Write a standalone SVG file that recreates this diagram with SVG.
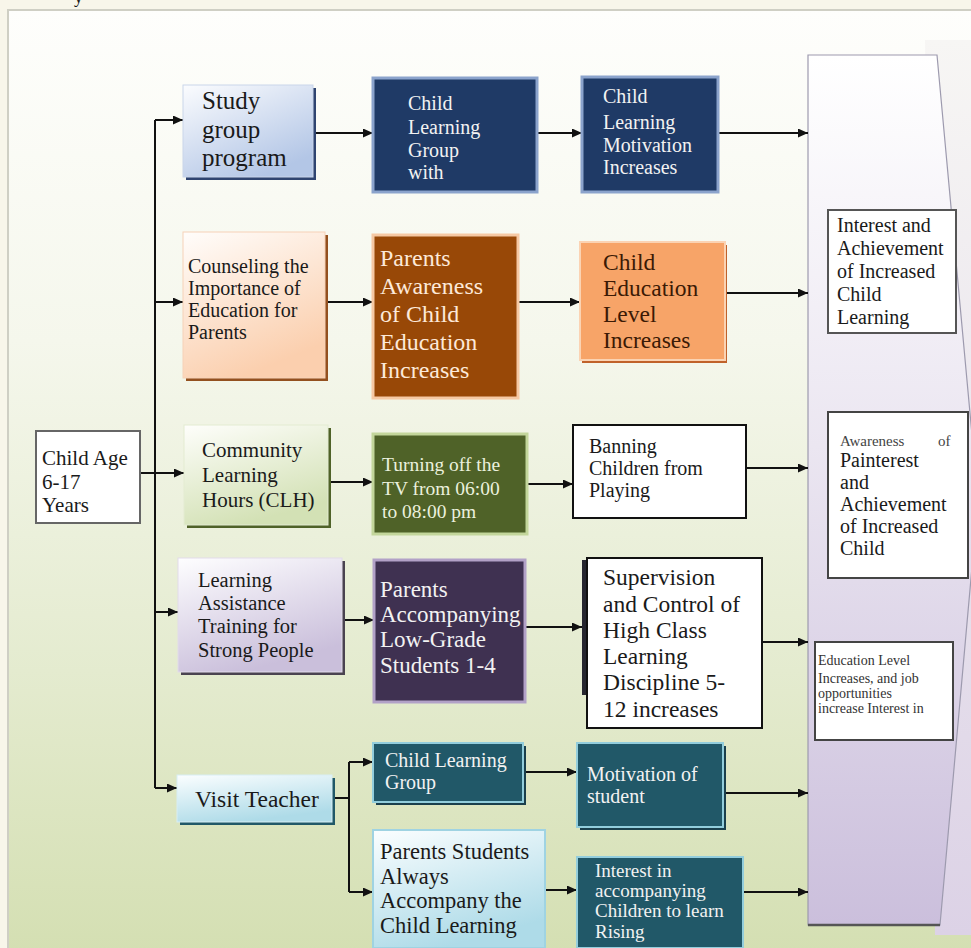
<svg xmlns="http://www.w3.org/2000/svg" width="971" height="948" viewBox="0 0 971 948">
<style>
text{font-family:"Liberation Serif","Times New Roman",serif;}
.dk{fill:#1a1a1a;}
.wt{fill:#f2f2f2;}
.cn line,.cn path{stroke:#111;stroke-width:2;fill:none;}
.arr{marker-end:url(#ah);}
</style>
<defs>
<marker id="ah" markerUnits="userSpaceOnUse" markerWidth="10" markerHeight="9" refX="10" refY="4.5" orient="auto"><path d="M0,0 L10,4.5 L0,9 z" fill="#111"/></marker>
<linearGradient id="bg" x1="0" y1="0" x2="0" y2="1"><stop offset="0" stop-color="#fefefc"/><stop offset="0.35" stop-color="#f5f7ec"/><stop offset="0.7" stop-color="#e4ebcf"/><stop offset="1" stop-color="#d4dfb2"/></linearGradient>
<linearGradient id="lav" x1="0" y1="0" x2="0" y2="1"><stop offset="0" stop-color="#ffffff"/><stop offset="0.45" stop-color="#ebe6f1"/><stop offset="1" stop-color="#cbbfdc"/></linearGradient>
<linearGradient id="lav2" x1="0" y1="0" x2="0" y2="1"><stop offset="0" stop-color="#f7f6f4"/><stop offset="1" stop-color="#dcd2e6"/></linearGradient>
<linearGradient id="gBlue" x1="0" y1="0" x2="0.6" y2="1"><stop offset="0" stop-color="#fbfcfe"/><stop offset="1" stop-color="#b3c6e6"/></linearGradient>
<linearGradient id="gPeach" x1="0" y1="0" x2="0.4" y2="1"><stop offset="0" stop-color="#fffdfb"/><stop offset="1" stop-color="#fbcfae"/></linearGradient>
<linearGradient id="gGreen" x1="0" y1="0" x2="0.4" y2="1"><stop offset="0" stop-color="#fefefb"/><stop offset="1" stop-color="#d3e1b5"/></linearGradient>
<linearGradient id="gLilac" x1="0" y1="0" x2="0.4" y2="1"><stop offset="0" stop-color="#fefeff"/><stop offset="1" stop-color="#cabfdb"/></linearGradient>
<linearGradient id="gAqua" x1="0" y1="0" x2="0.4" y2="1"><stop offset="0" stop-color="#fbfeff"/><stop offset="1" stop-color="#aedbe8"/></linearGradient>
</defs>

<rect x="0" y="0" width="971" height="948" fill="#f8f6ea"/>
<text x="74" y="3" font-size="18" class="dk">y</text>
<rect x="8" y="10" width="970" height="945" fill="url(#bg)" stroke="#cfcfc4" stroke-width="2"/>

<g id="outcome-panel">
<polygon points="925,40 971,40 971,935 935,935" fill="url(#lav2)"/>
<polygon points="808,55 937,55 978,500 940,925 808,925" fill="url(#lav)" stroke="#9d9aae" stroke-width="1.2"/>
<line x1="808" y1="925" x2="940" y2="925" stroke="#555" stroke-width="2.5"/>
</g>

<g class="cn" id="connectors">
<path d="M155,120 V788"/>
<path class="arr" d="M155,120 H183"/>
<path class="arr" d="M155,302 H183"/>
<path class="arr" d="M140,473 H184"/>
<path class="arr" d="M155,612 H178"/>
<path class="arr" d="M155,788 H177"/>
<path class="arr" d="M313,133 H373"/>
<path class="arr" d="M537,133 H582"/>
<path class="arr" d="M718,133 H808"/>
<path class="arr" d="M325,302 H373"/>
<path class="arr" d="M518,302 H580"/>
<path class="arr" d="M725,293 H808"/>
<path class="arr" d="M328,482 H373"/>
<path class="arr" d="M527,484 H573"/>
<path class="arr" d="M746,468 H808"/>
<path class="arr" d="M342,620 H374"/>
<path class="arr" d="M525,627 H582"/>
<path class="arr" d="M762,642 H808"/>
<path d="M332,798 H349 M349,762 V892"/>
<path class="arr" d="M349,762 H373"/>
<path class="arr" d="M349,892 H373"/>
<path class="arr" d="M523,772 H577"/>
<path class="arr" d="M545,890 H577"/>
<path class="arr" d="M723,793 H808"/>
<path class="arr" d="M743,892 H808"/>
</g>

<g id="child-age">
<rect x="36" y="431" width="104" height="92" fill="#ffffff" stroke="#666" stroke-width="2"/>
<text font-size="21" class="dk"><tspan x="42" y="465">Child Age</tspan><tspan x="42" y="489">6-17</tspan><tspan x="42" y="512">Years</tspan></text>
</g>

<g id="study-group">
<rect x="186" y="88" width="130" height="92" fill="#2f4470"/>
<rect x="183" y="85" width="130" height="92" fill="url(#gBlue)" stroke="#c9d5ea"/>
<text font-size="25" class="dk"><tspan x="202" y="109">Study</tspan><tspan x="202" y="138">group</tspan><tspan x="202" y="166">program</tspan></text>
</g>

<g id="child-learning-group-with">
<rect x="373" y="78" width="164" height="114" fill="#1f3a66" stroke="#8ba3cc" stroke-width="3"/>
<text font-size="20" class="wt"><tspan x="408" y="110">Child</tspan><tspan x="408" y="134">Learning</tspan><tspan x="408" y="157">Group</tspan><tspan x="408" y="179">with</tspan></text>
</g>

<g id="child-learning-motivation">
<rect x="582" y="77" width="136" height="115" fill="#1f3a66" stroke="#8ba3cc" stroke-width="3"/>
<text font-size="20" class="wt"><tspan x="603" y="103">Child</tspan><tspan x="603" y="129">Learning</tspan><tspan x="603" y="152">Motivation</tspan><tspan x="603" y="174">Increases</tspan></text>
</g>

<g id="counseling">
<rect x="186" y="235" width="142" height="146" fill="#93501f"/>
<rect x="183" y="232" width="142" height="146" fill="url(#gPeach)" stroke="#f6d2b8"/>
<text font-size="20" class="dk"><tspan x="188" y="273">Counseling the</tspan><tspan x="188" y="295">Importance of</tspan><tspan x="188" y="317">Education for</tspan><tspan x="188" y="339">Parents</tspan></text>
</g>

<g id="parents-awareness">
<rect x="373" y="235" width="145" height="163" fill="#984807" stroke="#f6c9a4" stroke-width="3"/>
<text font-size="24" fill="#fde9d9"><tspan x="380" y="266">Parents</tspan><tspan x="380" y="294">Awareness</tspan><tspan x="380" y="322">of Child</tspan><tspan x="380" y="350">Education</tspan><tspan x="380" y="378">Increases</tspan></text>
</g>

<g id="child-education-level">
<rect x="582" y="245" width="145" height="118" fill="#c0622a"/>
<rect x="580" y="242" width="145" height="118" fill="#f7a468" stroke="#fbd3b3" stroke-width="2"/>
<text font-size="23.5" fill="#3b1a05"><tspan x="603" y="270">Child</tspan><tspan x="603" y="296">Education</tspan><tspan x="603" y="322">Level</tspan><tspan x="603" y="348">Increases</tspan></text>
</g>

<g id="interest-achievement">
<rect x="828" y="210" width="128" height="123" fill="#ffffff" stroke="#555" stroke-width="2"/>
<text font-size="20" class="dk"><tspan x="837" y="232">Interest and</tspan><tspan x="837" y="255">Achievement</tspan><tspan x="837" y="278">of Increased</tspan><tspan x="837" y="301">Child</tspan><tspan x="837" y="324">Learning</tspan></text>
</g>

<g id="community-learning-hours">
<rect x="187" y="428" width="144" height="100" fill="#4f6228"/>
<rect x="184" y="425" width="144" height="100" fill="url(#gGreen)" stroke="#e3ebd2"/>
<text font-size="21" class="dk"><tspan x="202" y="457">Community</tspan><tspan x="202" y="482">Learning</tspan><tspan x="202" y="507">Hours (CLH)</tspan></text>
</g>

<g id="turning-off-tv">
<rect x="373" y="434" width="154" height="100" fill="#4f6228" stroke="#c3d69b" stroke-width="3"/>
<text font-size="19.5" fill="#ebf1de"><tspan x="382" y="471">Turning off the</tspan><tspan x="382" y="495">TV from 06:00</tspan><tspan x="382" y="518">to 08:00 pm</tspan></text>
</g>

<g id="banning-children">
<rect x="573" y="425" width="173" height="93" fill="#ffffff" stroke="#111" stroke-width="2"/>
<text font-size="20" class="dk"><tspan x="589" y="453">Banning</tspan><tspan x="589" y="475">Children from</tspan><tspan x="589" y="497">Playing</tspan></text>
</g>

<g id="awareness-painterest">
<rect x="828" y="412" width="140" height="166" fill="#ffffff" stroke="#444" stroke-width="2"/>
<text font-size="15" fill="#444"><tspan x="840" y="446">Awareness</tspan><tspan x="938" y="446">of</tspan></text>
<text font-size="20" class="dk"><tspan x="840" y="467">Painterest</tspan><tspan x="840" y="489">and</tspan><tspan x="840" y="511">Achievement</tspan><tspan x="840" y="533">of Increased</tspan><tspan x="840" y="555">Child</tspan></text>
</g>

<g id="learning-assistance">
<rect x="181" y="561" width="164" height="114" fill="#4a4350"/>
<rect x="178" y="558" width="164" height="114" fill="url(#gLilac)" stroke="#e2dcea"/>
<text font-size="20.5" class="dk"><tspan x="198" y="587">Learning</tspan><tspan x="198" y="610">Assistance</tspan><tspan x="198" y="633">Training for</tspan><tspan x="198" y="657">Strong People</tspan></text>
</g>

<g id="parents-accompanying">
<rect x="374" y="560" width="151" height="142" fill="#3f3151" stroke="#b2a1c7" stroke-width="3"/>
<text font-size="23" class="wt"><tspan x="380" y="597">Parents</tspan><tspan x="380" y="622">Accompanying</tspan><tspan x="380" y="647">Low-Grade</tspan><tspan x="380" y="673">Students 1-4</tspan></text>
</g>

<g id="supervision-control">
<rect x="582" y="560" width="176" height="135" fill="#262630"/>
<rect x="587" y="558" width="175" height="170" fill="#ffffff" stroke="#111" stroke-width="2"/>
<text font-size="23.5" class="dk"><tspan x="603" y="585">Supervision</tspan><tspan x="603" y="612">and Control of</tspan><tspan x="603" y="638">High Class</tspan><tspan x="603" y="664">Learning</tspan><tspan x="603" y="690">Discipline 5-</tspan><tspan x="603" y="717">12 increases</tspan></text>
</g>

<g id="education-level-jobs">
<rect x="815" y="642" width="138" height="98" fill="#ffffff" stroke="#444" stroke-width="2"/>
<text font-size="14" fill="#333"><tspan x="818" y="665">Education Level</tspan><tspan x="818" y="683">Increases, and job</tspan><tspan x="818" y="698">opportunities</tspan><tspan x="818" y="713">increase Interest in</tspan></text>
</g>

<g id="visit-teacher">
<rect x="180" y="778" width="155" height="47" fill="#215868"/>
<rect x="177" y="775" width="155" height="47" fill="url(#gAqua)" stroke="#d8eef4"/>
<text font-size="23.5" class="dk"><tspan x="195" y="807">Visit Teacher</tspan></text>
</g>

<g id="child-learning-group">
<rect x="376" y="746" width="150" height="59" fill="#1a3f4c"/>
<rect x="373" y="743" width="150" height="59" fill="#215868" stroke="#92cddc" stroke-width="2"/>
<text font-size="20" class="wt"><tspan x="385" y="767">Child Learning</tspan><tspan x="385" y="789">Group</tspan></text>
</g>

<g id="parents-students">
<rect x="373" y="830" width="172" height="118" fill="url(#gAqua)" stroke="#9fd3e2" stroke-width="2"/>
<text font-size="22.5" class="dk"><tspan x="380" y="859">Parents Students</tspan><tspan x="380" y="884">Always</tspan><tspan x="380" y="908">Accompany the</tspan><tspan x="380" y="933">Child Learning</tspan></text>
</g>

<g id="motivation-student">
<rect x="580" y="746" width="146" height="84" fill="#1a3f4c"/>
<rect x="577" y="743" width="146" height="84" fill="#215868" stroke="#92cddc" stroke-width="2"/>
<text font-size="20" class="wt"><tspan x="587" y="781">Motivation of</tspan><tspan x="587" y="803">student</tspan></text>
</g>

<g id="interest-accompanying">
<rect x="577" y="857" width="166" height="91" fill="#215868" stroke="#92cddc" stroke-width="2"/>
<text font-size="19" class="wt"><tspan x="595" y="877">Interest in</tspan><tspan x="595" y="897">accompanying</tspan><tspan x="595" y="917">Children to learn</tspan><tspan x="595" y="938">Rising</tspan></text>
</g>
</svg>
